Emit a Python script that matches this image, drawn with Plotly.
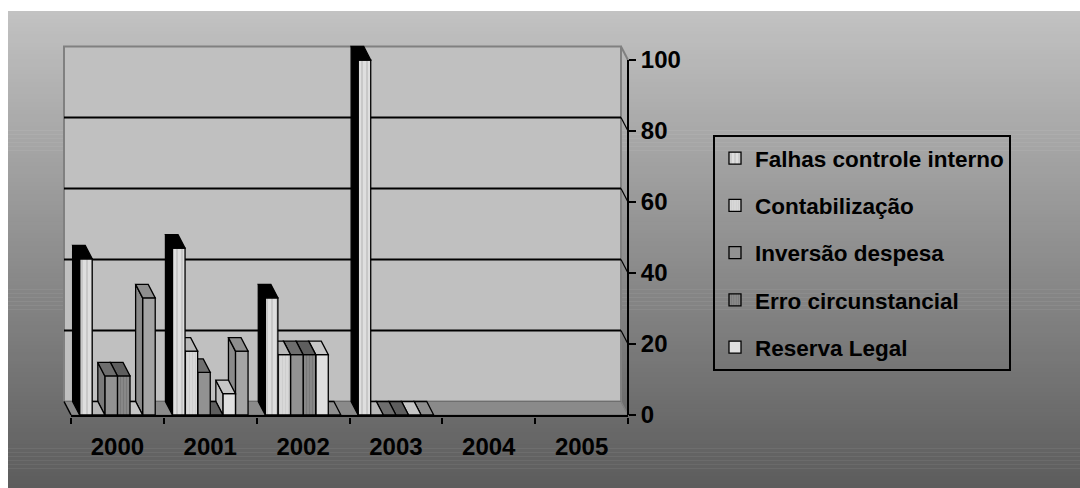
import plotly.graph_objects as go

# ---------------- data ----------------
years = ["2000", "2001", "2002", "2003", "2004", "2005"]
falhas = [44, 47, 33, 100, None, None]
contabilizacao = [0, 18, 17, 0, None, None]
inversao = [11, 12, 17, 0, None, None]
erro = [11, 0, 17, 0, None, None]
reserva = [0, 6, 17, 0, None, None]
outros = [33, 18, 0, 0, None, None]
series_names = ["Falhas controle interno", "Contabilização", "Inversão despesa",
                "Erro circunstancial", "Reserva Legal", ""]
y_ticks = [0, 20, 40, 60, 80, 100]

series = [falhas, contabilizacao, inversao, erro, reserva, outros]

# ---------------- styles ----------------
front_colors = ["#e2e2e2", "#d4d4d4", "#929292", "#828282", "#e0e0e0", "#a4a4a4"]
side_colors = ["#000000", "#a8a8a8", "#7a7a7a", "#666666", "#bdbdbd", "#8a8a8a"]
top_colors = ["#000000", "#b8b8b8", "#6e6e6e", "#5e5e5e", "#c6c6c6", "#8e8e8e"]
patterns = [dict(shape="|", fgcolor="#f4f4f4", bgcolor="#c8c8c8", size=5, solidity=0.6),
            dict(shape="|", fgcolor="#c4c4c4", bgcolor="#d8d8d8", size=3, solidity=0.35),
            None, dict(shape="|", fgcolor="#6a6a6a", bgcolor="#888888", size=3, solidity=0.35),
            None, None]
FONT = "Liberation Sans, Arial, sans-serif"

# ---------------- geometry (pixels -> data units) ----------------
W, H = 1080, 488
PX_X = 557 / 6.0          # pixels per category
PX_Y = 355 / 100.0        # pixels per value unit
X0_PX, Y0_PX = 71, 415    # pixel of x=0 and y=0 (front)
LEFT_PX, RIGHT_PX = 62, 631
TOP_PX, BOT_PX = 44, 417
DX = 7 / PX_X             # 3D depth offset (left)
DY = 13.5 / PX_Y          # 3D depth offset (up)
BW = 12.6 / PX_X          # bar width
n_cat = len(years)
n_ser = len(series)

xr = [-(X0_PX - LEFT_PX) / PX_X, (RIGHT_PX - X0_PX) / PX_X]
yr = [-(BOT_PX - Y0_PX) / PX_Y, (Y0_PX - TOP_PX) / PX_Y]
pw = RIGHT_PX - LEFT_PX
ph = BOT_PX - TOP_PX


def paper_x(px):
    return (px - LEFT_PX) / pw


def paper_y(py):
    return (BOT_PX - py) / ph


fig = go.Figure()

# draw series right-to-left so left bars occlude the sides of right ones
for j in reversed(range(n_ser)):
    vals = series[j]
    n = n_ser - j
    xa = "x" if n == 1 else f"x{n}"
    ya = "y" if n == 1 else f"y{n}"
    xs, ys = [], []
    sx, sy, tx, ty = [], [], [], []
    for i, v in enumerate(vals):
        if v is None:
            continue
        xc = i + 0.5 + (j - (n_ser - 1) / 2) * BW
        x0, x1 = xc - BW / 2, xc + BW / 2
        xs.append(xc)
        ys.append(v)
        sx += [x0, x0, x0 - DX, x0 - DX, x0, None]
        sy += [0, v, v + DY, DY, 0, None]
        tx += [x0, x1, x1 - DX, x0 - DX, x0, None]
        ty += [v, v, v + DY, v + DY, v, None]
    marker = dict(color=front_colors[j], line=dict(color="black", width=1.3))
    if patterns[j]:
        marker["pattern"] = patterns[j]
    fig.add_trace(go.Bar(
        x=xs, y=ys, width=BW, name=series_names[j], marker=marker,
        showlegend=bool(series_names[j]), legendrank=j + 1, legendgroup=f"g{j}",
        xaxis=xa, yaxis=ya, hoverinfo="skip"))
    fig.add_trace(go.Scatter(
        x=sx, y=sy, mode="lines", fill="toself", fillcolor=side_colors[j],
        line=dict(color="black", width=1.3), showlegend=False,
        xaxis=xa, yaxis=ya, hoverinfo="skip"))
    fig.add_trace(go.Scatter(
        x=tx, y=ty, mode="lines", fill="toself", fillcolor=top_colors[j],
        line=dict(color="black", width=1.3), showlegend=False,
        xaxis=xa, yaxis=ya, hoverinfo="skip"))

shapes = []
# background gradient (paper)
n_band = 120
top_c, bot_c = 194, 92
bg_top, bg_bot = 11, H
for b in range(n_band):
    py0 = bg_top + (bg_bot - bg_top) * b / n_band
    py1 = bg_top + (bg_bot - bg_top) * (b + 1) / n_band + 0.6
    c = round(top_c + (bot_c - top_c) * (b + 0.5) / n_band)
    shapes.append(dict(type="rect", xref="paper", yref="paper", layer="below",
                       x0=paper_x(8), x1=paper_x(W + 2), y0=paper_y(min(py1, H + 2)), y1=paper_y(py0),
                       fillcolor=f"rgb({c},{c},{c})", line=dict(width=0)))
# back wall
shapes.append(dict(type="rect", xref="x", yref="y", layer="below",
                   x0=-DX, x1=n_cat - DX, y0=DY, y1=100 + DY,
                   fillcolor="#c0c0c0", line=dict(color="#808080", width=2)))
# floor
shapes.append(dict(type="path", xref="x", yref="y", layer="below",
                   path=f"M0,0 L{n_cat},0 L{n_cat - DX},{DY} L{-DX},{DY} Z",
                   fillcolor="#8a8a8a", line=dict(color="#6e6e6e", width=1)))
# gridlines on back wall and their connectors to the front axis
for v in y_ticks[1:-1]:
    shapes.append(dict(type="line", xref="x", yref="y", layer="below",
                       x0=-DX, x1=n_cat - DX, y0=v + DY, y1=v + DY,
                       line=dict(color="black", width=2)))
    shapes.append(dict(type="line", xref="x", yref="y", layer="below",
                       x0=n_cat - DX, x1=n_cat, y0=v + DY, y1=v,
                       line=dict(color="black", width=1.2)))
# edges
shapes.append(dict(type="line", xref="x", yref="y", layer="below",
                   x0=n_cat - DX, x1=n_cat, y0=100 + DY, y1=100,
                   line=dict(color="#808080", width=2)))
shapes.append(dict(type="line", xref="x", yref="y", layer="below",
                   x0=n_cat - DX, x1=n_cat, y0=DY, y1=0,
                   line=dict(color="#808080", width=1.5)))
shapes.append(dict(type="line", xref="x", yref="y", layer="below",
                   x0=-DX, x1=0, y0=DY, y1=0, line=dict(color="black", width=1.5)))
shapes.append(dict(type="line", xref="x", yref="y", layer="below",
                   x0=0, x1=n_cat, y0=yr[0] * 0.5, y1=yr[0] * 0.5,
                   line=dict(color="black", width=2)))
shapes.append(dict(type="line", xref="x", yref="y", layer="below",
                   x0=n_cat, x1=n_cat, y0=0, y1=100, line=dict(color="black", width=2)))

tickfont = dict(family=FONT, size=24, color="black", weight="bold")

layout = dict(
    width=W, height=H,
    margin=dict(l=LEFT_PX, r=W - RIGHT_PX, t=TOP_PX, b=H - BOT_PX, pad=0),
    paper_bgcolor="white", plot_bgcolor="rgba(0,0,0,0)",
    barmode="overlay", showlegend=True, shapes=shapes,
    xaxis=dict(range=xr, domain=[0, 1], tickmode="array",
               tickvals=[i + 0.5 for i in range(n_cat)], ticktext=years,
               ticks="outside", ticklen=8, tickcolor="rgba(0,0,0,0)",
               tickfont=tickfont, showgrid=False, zeroline=False, showline=False,
               minor=dict(tickmode="array", tickvals=list(range(n_cat + 1)),
                          ticks="outside", ticklen=6, tickwidth=2, tickcolor="black",
                          showgrid=False)),
    yaxis=dict(range=yr, side="right", anchor="free", position=paper_x(X0_PX + n_cat * PX_X),
               tickmode="array", tickvals=y_ticks, ticks="outside", ticklen=7, tickwidth=2,
               tickcolor="black", tickfont=tickfont, showgrid=False, zeroline=False,
               showline=False),
    legend=dict(x=paper_x(713), y=paper_y(135), xanchor="left", yanchor="top",
                bgcolor="rgba(0,0,0,0)", bordercolor="black", borderwidth=2,
                font=dict(family=FONT, size=22.5, color="black", weight="bold"),
                tracegroupgap=15, traceorder="grouped", itemwidth=30),
)
for n in range(2, n_ser + 1):
    layout[f"xaxis{n}"] = dict(range=xr, overlaying="x", visible=False, domain=[0, 1])
    layout[f"yaxis{n}"] = dict(range=yr, overlaying="y", visible=False)

fig.update_layout(**layout)
fig.write_html("out.html")
